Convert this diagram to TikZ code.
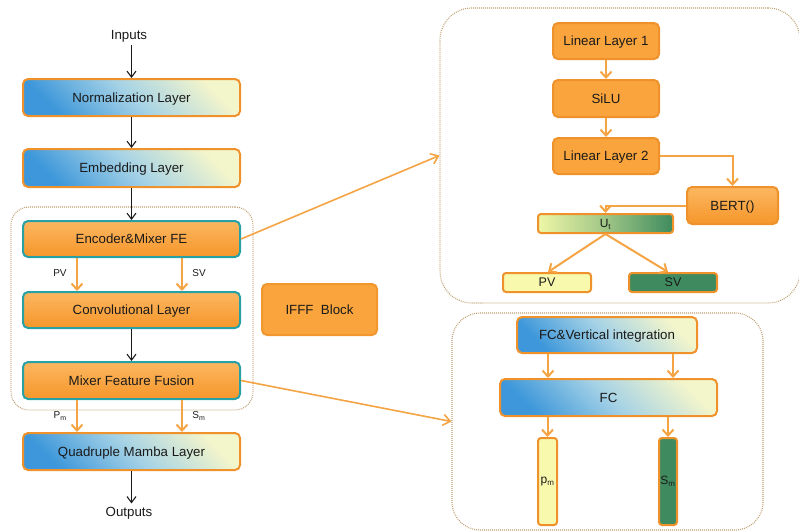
\documentclass[tikz,border=0pt]{standalone}
\usepackage{fontspec}
\setmainfont{Liberation Sans}
\usetikzlibrary{arrows.meta,calc}

\definecolor{boxborder}{HTML}{F0922B}
\definecolor{tealborder}{HTML}{27A0A6}
\definecolor{orangetop}{HTML}{FCB761}
\definecolor{orangebot}{HTML}{F6962A}
\definecolor{orangeflat}{HTML}{F9A43C}
\definecolor{bluedeep}{HTML}{3D97DA}
\definecolor{bluemid}{HTML}{A5D2E6}
\definecolor{bluepale}{HTML}{F3F5CB}
\definecolor{contline}{HTML}{BF9E72}
\definecolor{arrorange}{HTML}{F5A444}
\definecolor{greendark}{HTML}{3F8B5F}
\definecolor{greenpale}{HTML}{EEF6A6}
\definecolor{yellowpale}{HTML}{F9F9AE}
\definecolor{ink}{HTML}{1A1A1A}

\tikzset{
  txt/.style={font=\fontsize{13.3}{16}\selectfont, text=ink},
  small/.style={font=\fontsize{10}{12}\selectfont, text=ink},
  base/.style={txt, inner sep=0pt, text depth=0pt, rounded corners=5pt, line width=2pt},
  bluebox/.style={base, draw=boxborder, top color=bluepale, bottom color=bluedeep,
    middle color=bluemid, shading angle=-45},
  featbox/.style={base, draw=tealborder, top color=orangetop, bottom color=orangebot},
  orbox/.style={base, draw=boxborder, fill=orangeflat},
  orgrad/.style={base, draw=boxborder, top color=orangetop, bottom color=orangebot},
  cont/.style={draw=contline, line width=1.1pt, dash pattern=on 0.9pt off 1.1pt},
  blk/.style={draw=ink, line width=1.1pt, -{Straight Barb[length=6pt,width=9pt]}},
  oarr/.style={draw=arrorange, line width=2pt, -{Straight Barb[length=6pt,width=11pt]}},
  olink/.style={draw=arrorange, line width=1.6pt, -{Straight Barb[length=7pt,width=11pt]}},
}

\begin{document}
\begin{tikzpicture}[x=1pt,y=-1pt]
\useasboundingbox (0,0) rectangle (799,531);

% dotted group frames
\node[cont, rounded corners=18pt, minimum width=242, minimum height=203] (leftc) at (132,308.5) {};
\node[cont, rounded corners=32pt, minimum width=360, minimum height=295] (upc) at (620,155.5) {};
\node[cont, rounded corners=28pt, minimum width=311, minimum height=217] (lowc) at (607.5,421.5) {};

% main pipeline
\node[txt] (inputs) at (129,36) {Inputs};
\node[bluebox, minimum width=217, minimum height=37] (norm) at (131.5,97.5) {Normalization Layer};
\node[bluebox, minimum width=217, minimum height=38] (embed) at (131.5,168) {Embedding Layer};
\node[featbox, minimum width=217, minimum height=36] (enc) at (131.5,239) {Encoder\&Mixer FE};
\node[featbox, minimum width=217, minimum height=36] (conv) at (131.5,310) {Convolutional Layer};
\node[featbox, minimum width=217, minimum height=37] (mff) at (131.5,380.5) {Mixer Feature Fusion};
\node[bluebox, minimum width=217, minimum height=37] (quad) at (131.5,451.5) {Quadruple Mamba Layer};
\node[txt] (outputs) at (129,513) {Outputs};
\node[orbox, draw=boxborder!80!orangeflat, minimum width=115, minimum height=51] (ifff) at (319.5,309.5) {IFFF\ \ Block};

\draw[blk] (inputs.south -| norm.north) -- (norm.north);
\draw[blk] (norm) -- (embed);
\draw[blk] (embed) -- (enc);
\draw[blk] (conv) -- (mff);
\draw[blk] (quad.south) -- (quad.south |- outputs.north);

\draw[oarr] ([xshift=-54.5]enc.south) -- ([xshift=-54.5]conv.north)
  node[small, pos=0.45, left=6pt] {PV};
\draw[oarr] ([xshift=50.5]enc.south) -- ([xshift=50.5]conv.north)
  node[small, pos=0.45, right=6pt] {SV};
\draw[oarr] ([xshift=-54.5]mff.south) -- ([xshift=-54.5]quad.north)
  node[small, pos=0.5, left=6pt] {P\textsubscript{m}};
\draw[oarr] ([xshift=50.5]mff.south) -- ([xshift=50.5]quad.north)
  node[small, pos=0.5, right=6pt] {S\textsubscript{m}};

% upper detail: projection and BERT branch
\node[orbox, minimum width=106, minimum height=36] (lin1) at (606,41) {Linear Layer 1};
\node[orbox, minimum width=106, minimum height=37] (silu) at (606,98.5) {SiLU};
\node[orbox, minimum width=106, minimum height=36] (lin2) at (606,156) {Linear Layer 2};
\node[orgrad, minimum width=91, minimum height=37] (bert) at (732.5,205.5) {BERT()};
\node[base, rounded corners=3pt, draw=boxborder, left color=greenpale, right color=greendark,
  middle color=greendark!45!greenpale, minimum width=135, minimum height=19,
  font=\fontsize{12}{14}\selectfont] (ut) at (605.5,223.5) {U\textsubscript{t}};
\node[base, rounded corners=3pt, draw=boxborder, fill=yellowpale, minimum width=88,
  minimum height=19, font=\fontsize{12.5}{14}\selectfont] (pv) at (547,282.5) {PV};
\node[base, rounded corners=3pt, draw=boxborder, fill=greendark, minimum width=88,
  minimum height=19, font=\fontsize{12.5}{14}\selectfont] (sv) at (673,282.5) {SV};

\draw[oarr] (lin1) -- (silu);
\draw[oarr] (silu) -- (lin2);
\draw[oarr] (lin2.east) -| (bert.north);
\draw[oarr] (bert.west) -| (ut.north);
\draw[oarr] (ut.south) -- ([xshift=1]pv.north);
\draw[oarr] (ut.south) -- ([xshift=-5]sv.north);

% lower detail: fully connected fusion
\node[bluebox, minimum width=180, minimum height=36] (fcv) at (607,335) {FC\&Vertical integration};
\node[bluebox, minimum width=217, minimum height=37] (fc) at (608.5,397.5) {FC};
\node[base, rounded corners=3pt, draw=boxborder, fill=yellowpale, minimum width=19,
  minimum height=87] (pm) at (547.5,481.5) {};
\node[base, rounded corners=3pt, draw=boxborder, fill=greendark, minimum width=18,
  minimum height=87] (sm) at (668,481.5) {};
\node[font=\fontsize{12}{14}\selectfont, text=ink, inner sep=0pt] at (pm.center) {p\textsubscript{m}};
\node[font=\fontsize{12}{14}\selectfont, text=ink, inner sep=0pt] at (sm.center) {S\textsubscript{m}};

\draw[oarr] ([xshift=-59]fcv.south) -- ([xshift=-59]fcv.south |- fc.north);
\draw[oarr] ([xshift=66]fcv.south) -- ([xshift=66]fcv.south |- fc.north);
\draw[oarr] (fc.south -| pm.north) -- (pm.north);
\draw[oarr] (fc.south -| sm.north) -- (sm.north);

% links from the pipeline to the detail views
\draw[olink] (enc.east) -- (upc.west);
\draw[olink] (mff.east) -- (lowc.west);
\end{tikzpicture}
\end{document}
